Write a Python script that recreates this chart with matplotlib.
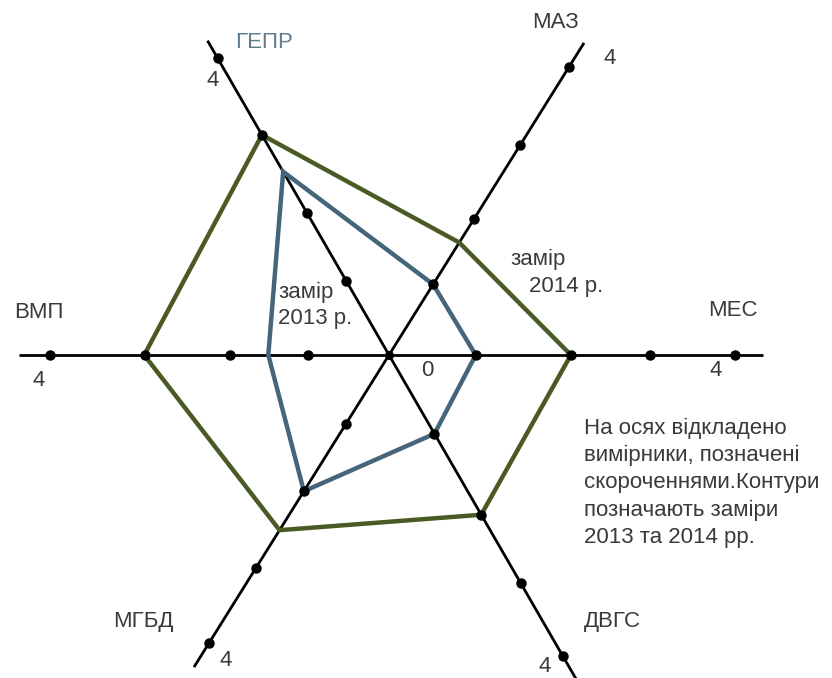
import numpy as np
import matplotlib
matplotlib.use("Agg")
import matplotlib.pyplot as plt

plt.rcParams['font.family'] = ['Liberation Sans', 'DejaVu Sans']

# Data
axes_names = ['МЕС', 'МАЗ', 'ГЕПР', 'ВМП', 'МГБД', 'ДВГС']
axes_angles_deg = [0, 58, 120, 180, 238, 300]
axis_extent = [4.4, 4.33, 4.27, 4.35, 4.33, 4.4]
# hand-placed tick marks 1..4 on each axis (as drawn)
ticks_mes = [1.02, 2.14, 3.07, 4.07]
ticks_maz = [0.98, 1.89, 2.91, 4.0]
ticks_gepr = [1.01, 1.93, 2.99, 4.03]
ticks_vmp = [0.95, 1.87, 2.87, 3.99]
ticks_mgbd = [0.96, 1.89, 2.96, 4.0]
ticks_dvgs = [1.07, 2.17, 3.1, 4.09]
values_2013 = [1.02, 0.98, 2.49, 1.42, 1.89, 1.07]
values_2014 = [2.14, 1.56, 2.99, 2.88, 2.43, 2.17]

W, H, DPI = 832, 678, 100
CX, CY, UNIT = 389, 355, 85.0  # centre in px, px per unit

fig = plt.figure(figsize=(W / DPI, H / DPI), dpi=DPI)
ax = fig.add_axes([0, 0, 1, 1])
ax.set_xlim(-CX / UNIT, (W - CX) / UNIT)
ax.set_ylim(-(H - CY) / UNIT, CY / UNIT)
ax.set_aspect('equal')
ax.axis('off')

ang = np.deg2rad(axes_angles_deg)

def xy(vals):
    v = np.asarray(vals, dtype=float)
    return v * np.cos(ang), v * np.sin(ang)

# axis lines
for a, ext in zip(ang, axis_extent):
    ax.plot([0, ext * np.cos(a)], [0, ext * np.sin(a)], color='black', lw=2.0,
            solid_capstyle='butt', zorder=2)

green = '#4a5a24'
blue = '#46657a'
for vals, col in [(values_2014, green), (values_2013, blue)]:
    x, y = xy(vals)
    ax.fill(x, y, fill=False, edgecolor=col, lw=3.2, joinstyle='miter', zorder=3)

# tick dots
all_ticks = [ticks_mes, ticks_maz, ticks_gepr, ticks_vmp, ticks_mgbd, ticks_dvgs]
for a, tv in zip(ang, all_ticks):
    tv = np.array(tv, dtype=float)
    ax.plot(tv * np.cos(a), tv * np.sin(a), 'o', color='black', ms=6.5, zorder=5)
ax.plot([0], [0], 'o', color='black', ms=5.5, zorder=5)

tc = '#3a3a3a'
fs = 16

def ftext(px, py, s, **kw):
    kw.setdefault('color', tc)
    kw.setdefault('fontsize', fs)
    kw.setdefault('ha', 'center')
    kw.setdefault('va', 'center')
    fig.text(px / W, 1 - py / H, s, **kw)

# axis labels
ftext(733, 311, 'МЕС')
ftext(556, 23, 'МАЗ')
ftext(264, 43, 'ГЕПР', color='#5f7d8c')
ftext(39, 313, 'ВМП')
ftext(143, 621, 'МГБД')
ftext(612, 622, 'ДВГС')
# "4" labels
ftext(716, 371, '4')
ftext(610, 58, '4')
ftext(213, 80, '4')
ftext(39, 380, '4')
ftext(226, 660, '4')
ftext(545, 667, '4')
ftext(427, 371, '0')

# series labels
ftext(278, 292, 'замір', ha='left')
ftext(278, 318, '2013 р.', ha='left')
ftext(510, 259, 'замір', ha='left')
ftext(529, 286, '2014 р.', ha='left')

ftext(584, 418, 'На осях відкладено\nвимірники, позначені\nскороченнями.Контури\nпозначають заміри\n2013 та 2014 рр.',
      ha='left', va='top', linespacing=1.38)

fig.savefig('out.png', dpi=DPI, facecolor='white')
